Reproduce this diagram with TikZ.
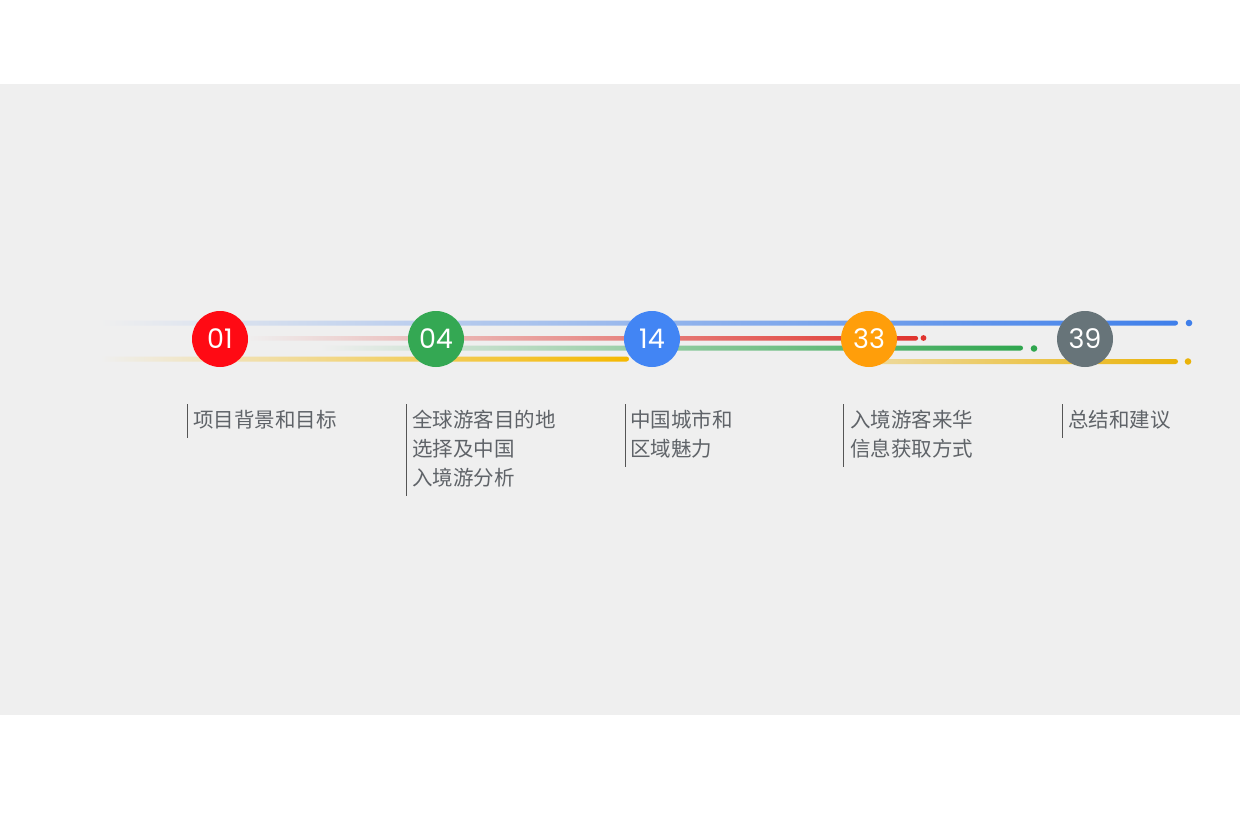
\documentclass[tikz,border=0pt]{standalone}
\usepackage{fontspec}
\newfontfamily\cjk{Noto Sans CJK SC}
\newfontfamily\numfont{Poppins}
\definecolor{bg}{HTML}{EFEFEF}
\definecolor{cred}{HTML}{FF0A14}
\definecolor{cgreen}{HTML}{34A853}
\definecolor{cblue}{HTML}{4285F4}
\definecolor{corange}{HTML}{FF9E0A}
\definecolor{cgray}{HTML}{677479}
\definecolor{lblue}{HTML}{3F7FEA}
\definecolor{lred}{HTML}{E0342E}
\definecolor{lgreen}{HTML}{2FA64E}
\definecolor{lyellow}{HTML}{F5B800}
\definecolor{lyellowb}{HTML}{EAB30A}
\definecolor{txtgray}{HTML}{5F6368}
\definecolor{bargray}{HTML}{555555}
\tikzset{
  num/.style={circle, minimum size=56pt, inner sep=0pt, text=white, font=\numfont\fontsize{27}{27}\selectfont},
  lbl/.style={anchor=north west, inner sep=0pt, align=left, text=txtgray, font=\cjk\fontsize{20.5}{29}\selectfont},
  bar/.style={draw=bargray, line width=0.9pt},
}
\begin{document}
\begin{tikzpicture}[x=1pt,y=-1pt]
\useasboundingbox (0,0) rectangle (1240,827);
\fill[white] (0,0) rectangle (1240,827);
\fill[bg] (0,84) rectangle (1240,715);
% gradient lines
\shade[left color=bg, right color=lblue, rounded corners=2.5pt] (100,320.5) rectangle (1178,325.5);
\fill[lblue] (1189,323) circle (3.3);
\shade[left color=bg, right color=lred, rounded corners=2pt] (245,336) rectangle (918,340.5);
\fill[lred] (923.5,338) circle (2.9);
\shade[left color=bg, right color=lgreen, rounded corners=2.5pt] (320,345.5) rectangle (1023,350.5);
\fill[lgreen] (1034,348.5) circle (3.3);
\shade[left color=bg, right color=lyellow, rounded corners=2.5pt] (100,356.5) rectangle (629,361.5);
\shade[left color=lyellowb!35!bg, right color=lyellowb, rounded corners=2.5pt] (870,359) rectangle (1178,364);
\fill[lyellowb] (1188,361.5) circle (3.3);
% circles
\node[num, fill=cred]    (c1) at (220,339) {01};
\node[num, fill=cgreen]  (c2) at (436,339) {04};
\node[num, fill=cblue]   (c3) at (652,339) {14};
\node[num, fill=corange] (c4) at (869,339) {33};
\node[num, fill=cgray]   (c5) at (1085,339) {39};
% labels
\node[lbl] (t1) at (193,410) {项目背景和目标};
\node[lbl] (t2) at (412,410) {全球游客目的地\\选择及中国\\入境游分析};
\node[lbl] (t3) at (630,410) {中国城市和\\区域魅力};
\node[lbl] (t4) at (850,410) {入境游客来华\\信息获取方式};
\node[lbl] (t5) at (1068,410) {总结和建议};
\foreach \t/\d in {t1/6, t2/6, t3/4.5, t4/6.5, t5/6} {
  \draw[bar] ([xshift=-\d pt, yshift=6pt]\t.north west) -- ([xshift=-\d pt, yshift=-8.5pt]\t.south west);
}
\end{tikzpicture}
\end{document}
